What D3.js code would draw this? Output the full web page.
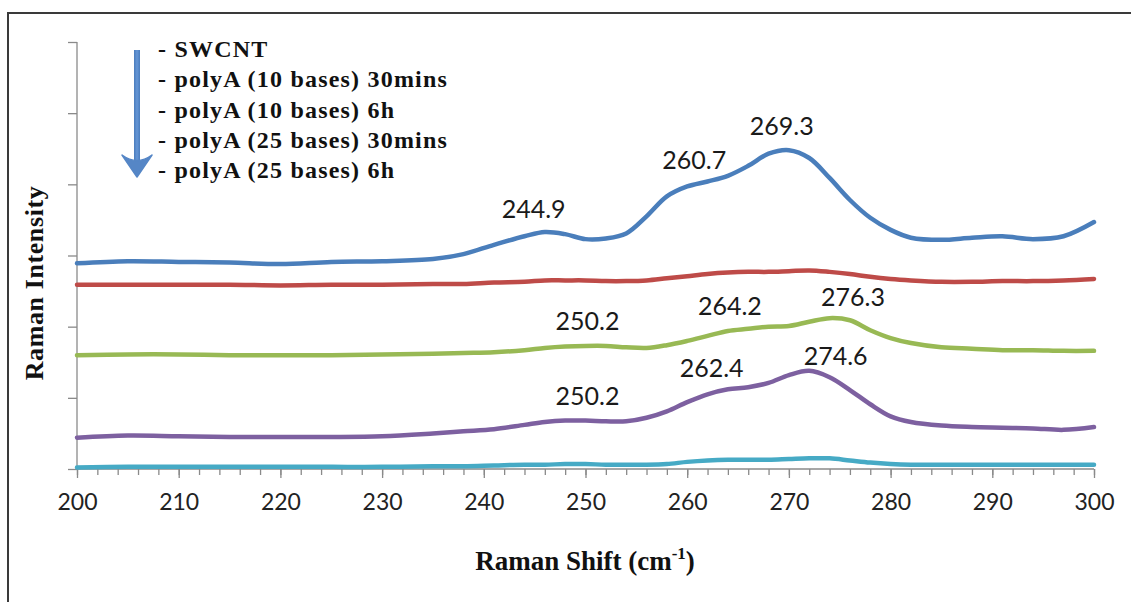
<!DOCTYPE html>
<html>
<head>
<meta charset="utf-8">
<script src="https://cdn.jsdelivr.net/npm/d3@7"></script>
<style>
  body { margin: 0; background: #fff; }
  svg { display: block; }
</style>
</head>
<body>
<svg id="chart" width="1131" height="602"></svg>
<script>
// Raman shift sample points (cm-1), shared by every spectrum
const shift = [200, 205, 210, 215, 220, 225, 230, 235, 238, 241, 244, 246, 248, 250, 252, 254, 256, 258,
               260, 262, 264, 266, 268, 270, 272, 274, 276, 278, 280, 282, 285, 288, 291, 294, 297, 300];

// Intensities (arbitrary units, spectra stacked with offsets)
const swcnt      = [2.89, 2.92, 2.91, 2.90, 2.88, 2.91, 2.92, 2.95, 3.02, 3.15, 3.27, 3.33, 3.30, 3.23, 3.24, 3.31, 3.55, 3.83,
                    3.97, 4.04, 4.12, 4.26, 4.43, 4.48, 4.37, 4.09, 3.78, 3.53, 3.36, 3.25, 3.22, 3.25, 3.27, 3.23, 3.27, 3.47];
const polyA10_30 = [2.59, 2.59, 2.59, 2.59, 2.58, 2.59, 2.59, 2.60, 2.60, 2.62, 2.63, 2.65, 2.65, 2.65, 2.64, 2.64, 2.65, 2.68,
                    2.71, 2.74, 2.76, 2.77, 2.77, 2.78, 2.79, 2.77, 2.74, 2.70, 2.67, 2.65, 2.63, 2.63, 2.64, 2.64, 2.65, 2.67];
const polyA10_6h = [1.60, 1.61, 1.61, 1.60, 1.60, 1.60, 1.61, 1.62, 1.63, 1.64, 1.67, 1.70, 1.72, 1.73, 1.73, 1.71, 1.70, 1.74,
                    1.80, 1.87, 1.94, 1.97, 2.00, 2.01, 2.07, 2.12, 2.09, 1.95, 1.84, 1.77, 1.71, 1.69, 1.67, 1.67, 1.66, 1.66];
const polyA25_30 = [0.44, 0.47, 0.46, 0.45, 0.45, 0.45, 0.46, 0.50, 0.53, 0.56, 0.62, 0.66, 0.68, 0.68, 0.67, 0.67, 0.72, 0.81,
                    0.94, 1.05, 1.12, 1.15, 1.21, 1.32, 1.38, 1.29, 1.11, 0.91, 0.74, 0.66, 0.61, 0.59, 0.58, 0.57, 0.55, 0.59];
const polyA25_6h = [0.02, 0.03, 0.03, 0.03, 0.03, 0.03, 0.03, 0.04, 0.04, 0.05, 0.06, 0.06, 0.07, 0.07, 0.06, 0.06, 0.06, 0.07,
                    0.10, 0.12, 0.13, 0.13, 0.13, 0.14, 0.15, 0.15, 0.12, 0.09, 0.07, 0.06, 0.06, 0.06, 0.06, 0.06, 0.06, 0.06];

const seriesNames  = ["SWCNT", "polyA (10 bases) 30mins", "polyA (10 bases) 6h", "polyA (25 bases) 30mins", "polyA (25 bases) 6h"];
const seriesValues = [swcnt, polyA10_30, polyA10_6h, polyA25_30, polyA25_6h];
const seriesColors = ["#4a7ebb", "#be4b48", "#98b954", "#7d60a0", "#46aac5"];

// Axis ticks
const xMajorTicks = d3.range(200, 301, 10);
const xMinorTicks = d3.range(200, 301, 2);
const yTicks = d3.range(0, 7, 1);

// Peak annotations: which spectrum, and the peak position it reports
const peakSeries = [0, 0, 0, 2, 2, 2, 3, 3, 3];
const peakLabels = ["244.9", "260.7", "269.3", "250.2", "264.2", "276.3", "250.2", "262.4", "274.6"];

const svg = d3.select("#chart");
const W = 1131, H = 602;

svg.append("rect").attr("width", W).attr("height", H).attr("fill", "#fff");

// chart frame
svg.append("rect")
  .attr("x", 8).attr("y", 13)
  .attr("width", W + 20).attr("height", H + 20)
  .attr("fill", "none").attr("stroke", "#3a3a3a").attr("stroke-width", 2);

const x = d3.scaleLinear().domain([200, 300]).range([77, 1094]);
const y = d3.scaleLinear().domain([0, 6]).range([469, 42]);

const axisColor = "#8a8a8a";

// y axis
const gy = svg.append("g").attr("transform", `translate(${x(200)},0)`)
  .call(d3.axisLeft(y).tickValues(yTicks).tickSize(9).tickFormat(""));
gy.selectAll("path,line").attr("stroke", axisColor).attr("stroke-width", 1.3);
gy.select(".domain").attr("d", `M0,${y(6)}V${y(0)}`);

// x axis: minor ticks then major ticks with labels
const gxMinor = svg.append("g").attr("transform", `translate(0,${y(0)})`)
  .call(d3.axisBottom(x).tickValues(xMinorTicks).tickSize(6).tickFormat(""));
gxMinor.selectAll("path,line").attr("stroke", axisColor).attr("stroke-width", 1.3);
gxMinor.select(".domain").attr("d", `M${x(200)},0H${x(300)}`);

const gx = svg.append("g").attr("transform", `translate(0,${y(0)})`)
  .call(d3.axisBottom(x).tickValues(xMajorTicks).tickSize(9).tickPadding(25).tickFormat(d3.format("d")));
gx.select(".domain").remove();
gx.selectAll("line").attr("stroke", axisColor).attr("stroke-width", 1.3);
gx.selectAll("text")
  .attr("font-family", "Lato, 'Open Sans', sans-serif")
  .attr("font-size", 23).attr("fill", "#222")
  .attr("dy", "0.32em");

// spectra
const line = d3.line()
  .x((d, i) => x(shift[i]))
  .y(d => y(d))
  .curve(d3.curveCatmullRom.alpha(0.5));

svg.append("g").selectAll("path")
  .data(seriesValues)
  .join("path")
  .attr("d", d => line(d))
  .attr("fill", "none")
  .attr("stroke", (d, i) => seriesColors[i])
  .attr("stroke-width", 4.5)
  .attr("stroke-linejoin", "round")
  .attr("stroke-linecap", "round");

// value of a spectrum at an arbitrary shift (linear between samples)
function valueAt(values, s) {
  const i = Math.max(1, Math.min(shift.length - 1, d3.bisectLeft(shift, s)));
  const t = (s - shift[i - 1]) / (shift[i] - shift[i - 1]);
  return values[i - 1] + t * (values[i] - values[i - 1]);
}

// peak labels sit just above the curve at the reported shift
svg.append("g").selectAll("text")
  .data(peakLabels)
  .join("text")
  .attr("x", d => x(+d))
  .attr("y", (d, i) => y(valueAt(seriesValues[peakSeries[i]], +d)) - 16)
  .attr("text-anchor", "middle")
  .attr("font-family", "Lato, 'Open Sans', sans-serif")
  .attr("font-size", 25)
  .attr("fill", "#1a1a1a")
  .text(d => d);

// legend: downward arrow (order of the spectra) and their names
const legend = svg.append("g");
const arrowGrad = svg.append("defs").append("linearGradient")
  .attr("id", "arrowFill").attr("x1", 0).attr("x2", 1).attr("y1", 0).attr("y2", 0);
arrowGrad.append("stop").attr("offset", "0%").attr("stop-color", "#4a7cbd");
arrowGrad.append("stop").attr("offset", "50%").attr("stop-color", "#6596d6");
arrowGrad.append("stop").attr("offset", "100%").attr("stop-color", "#4a7cbd");
legend.append("rect")
  .attr("x", 134).attr("y", 50).attr("width", 6).attr("height", 116)
  .attr("fill", "url(#arrowFill)");
legend.append("path")
  .attr("d", "M122,155 Q137,166 152,155 L137,177 Z")
  .attr("fill", "#5586c6")
  .attr("stroke", "#5586c6").attr("stroke-width", 1.5).attr("stroke-linejoin", "round");

legend.selectAll("text")
  .data(seriesNames)
  .join("text")
  .attr("x", 158)
  .attr("y", (d, i) => 57 + i * 30.3)
  .attr("font-family", "'Liberation Serif', 'Times New Roman', serif")
  .attr("font-weight", "bold")
  .attr("font-size", 24)
  .attr("letter-spacing", 1.2)
  .attr("fill", "#111")
  .text(d => "- " + d);

// axis titles
svg.append("text")
  .attr("transform", "translate(43,283) rotate(-90)")
  .attr("text-anchor", "middle")
  .attr("font-family", "'Liberation Serif', 'Times New Roman', serif")
  .attr("font-weight", "bold")
  .attr("font-size", 26)
  .attr("letter-spacing", 0.6)
  .attr("fill", "#111")
  .text("Raman Intensity");

const xt = svg.append("text")
  .attr("x", 585).attr("y", 570)
  .attr("text-anchor", "middle")
  .attr("font-family", "'Liberation Serif', 'Times New Roman', serif")
  .attr("font-weight", "bold")
  .attr("font-size", 27)
  .attr("fill", "#111");
xt.append("tspan").text("Raman Shift (cm");
xt.append("tspan").attr("font-size", 17).attr("dy", -11).text("-1");
xt.append("tspan").attr("dy", 11).text(")");
</script>
</body>
</html>
